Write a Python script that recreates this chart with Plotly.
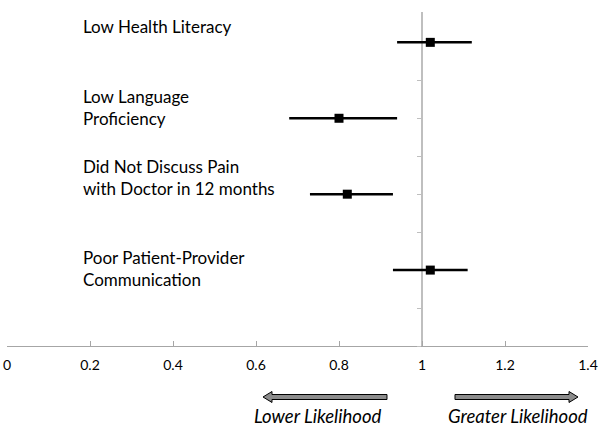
import plotly.graph_objects as go

# ---- data ----
categories = ["Low Health Literacy", "Low Language<br>Proficiency",
              "Did Not Discuss Pain<br>with Doctor in 12 months",
              "Poor Patient-Provider<br>Communication"]
y_pos = [8, 6, 4, 2]
odds_ratio = [1.02, 0.80, 0.82, 1.02]
ci_low = [0.94, 0.68, 0.73, 0.93]
ci_high = [1.12, 0.94, 0.93, 1.11]
x_ticks = [0, 0.2, 0.4, 0.6, 0.8, 1, 1.2, 1.4]
x_tick_text = ["0", "0.2", "0.4", "0.6", "0.8", "1", "1.2", "1.4"]

FONT = "Lato"

fig = go.Figure()

# CI lines
for yv, lo, hi in zip(y_pos, ci_low, ci_high):
    fig.add_trace(go.Scatter(x=[lo, hi], y=[yv, yv], mode="lines",
                             line=dict(color="black", width=2.5),
                             hoverinfo="skip", showlegend=False))
fig.add_trace(go.Scatter(x=odds_ratio, y=y_pos, mode="markers",
                         marker=dict(symbol="square", size=9, color="black"),
                         showlegend=False))

W, H = 600, 426
L, R, T, B = 7, 12, 12, 80
pw = W - L - R
ph = H - T - B

def px_x(p):
    return (p - L) / pw

def px_y(p):
    return 1 - (p - T) / ph

# category labels (text boxes)
label_y_px = [26, 107, 177, 268]
for txt, yp in zip(categories, label_y_px):
    fig.add_annotation(x=px_x(81), y=px_y(yp), xref="paper", yref="paper",
                       text=txt, showarrow=False, xanchor="left", yanchor="middle",
                       align="left", font=dict(family=FONT, size=17, color="black"))

# direction arrows (decorations)
def arrow_path(x0, x1, yc, left):
    h = 2.5  # half thickness px
    hh = 5.5  # head half height
    hl = 9   # head length
    def P(x, y):
        return f"{px_x(x):.5f},{px_y(y):.5f}"
    if left:
        pts = [(x0, yc), (x0 + hl, yc - hh), (x0 + hl, yc - h), (x1, yc - h),
               (x1, yc + h), (x0 + hl, yc + h), (x0 + hl, yc + hh)]
    else:
        pts = [(x1, yc), (x1 - hl, yc - hh), (x1 - hl, yc - h), (x0, yc - h),
               (x0, yc + h), (x1 - hl, yc + h), (x1 - hl, yc + hh)]
    return "M " + " L ".join(P(x, y) for x, y in pts) + " Z"

for x0, x1, left in [(263, 387, True), (455, 578, False)]:
    fig.add_shape(type="path", path=arrow_path(x0, x1, 397, left),
                  xref="paper", yref="paper",
                  fillcolor="#8c8c8c", line=dict(color="black", width=1))

fig.add_annotation(x=px_x(318), y=px_y(416), xref="paper", yref="paper",
                   text="<i>Lower Likelihood</i>", showarrow=False,
                   xanchor="center", yanchor="middle",
                   font=dict(family=FONT, size=18.5, color="black"))
fig.add_annotation(x=px_x(518), y=px_y(416), xref="paper", yref="paper",
                   text="<i>Greater Likelihood</i>", showarrow=False,
                   xanchor="center", yanchor="middle",
                   font=dict(family=FONT, size=18.5, color="black"))

fig.update_layout(
    width=W, height=H,
    margin=dict(l=L, r=R, t=T, b=B, autoexpand=False),
    paper_bgcolor="white", plot_bgcolor="white",
    font=dict(family=FONT, size=14, color="black"),
    xaxis=dict(range=[0, 1.4], tickvals=x_ticks, ticktext=x_tick_text,
               showgrid=False, zeroline=False, showline=True,
               linecolor="#a6a6a6", linewidth=1, ticks="inside",
               ticklen=5, tickcolor="#a6a6a6", fixedrange=True,
               automargin=False, ticklabelstandoff=6, layer="below traces"),
    yaxis=dict(range=[0, 8.8], dtick=1, tick0=0, showgrid=False,
               zeroline=False, showline=True, linecolor="#bfbfbf",
               linewidth=1.5, ticks="outside", ticklen=4, tickcolor="#bfbfbf",
               showticklabels=False, anchor="free", automargin=False,
               position=(1 - 0) / 1.4, fixedrange=True, layer="below traces"),
)

fig.write_html("out.html", config={"displayModeBar": False},
               post_script="document.body.style.margin='0';document.body.style.overflow='hidden';")
